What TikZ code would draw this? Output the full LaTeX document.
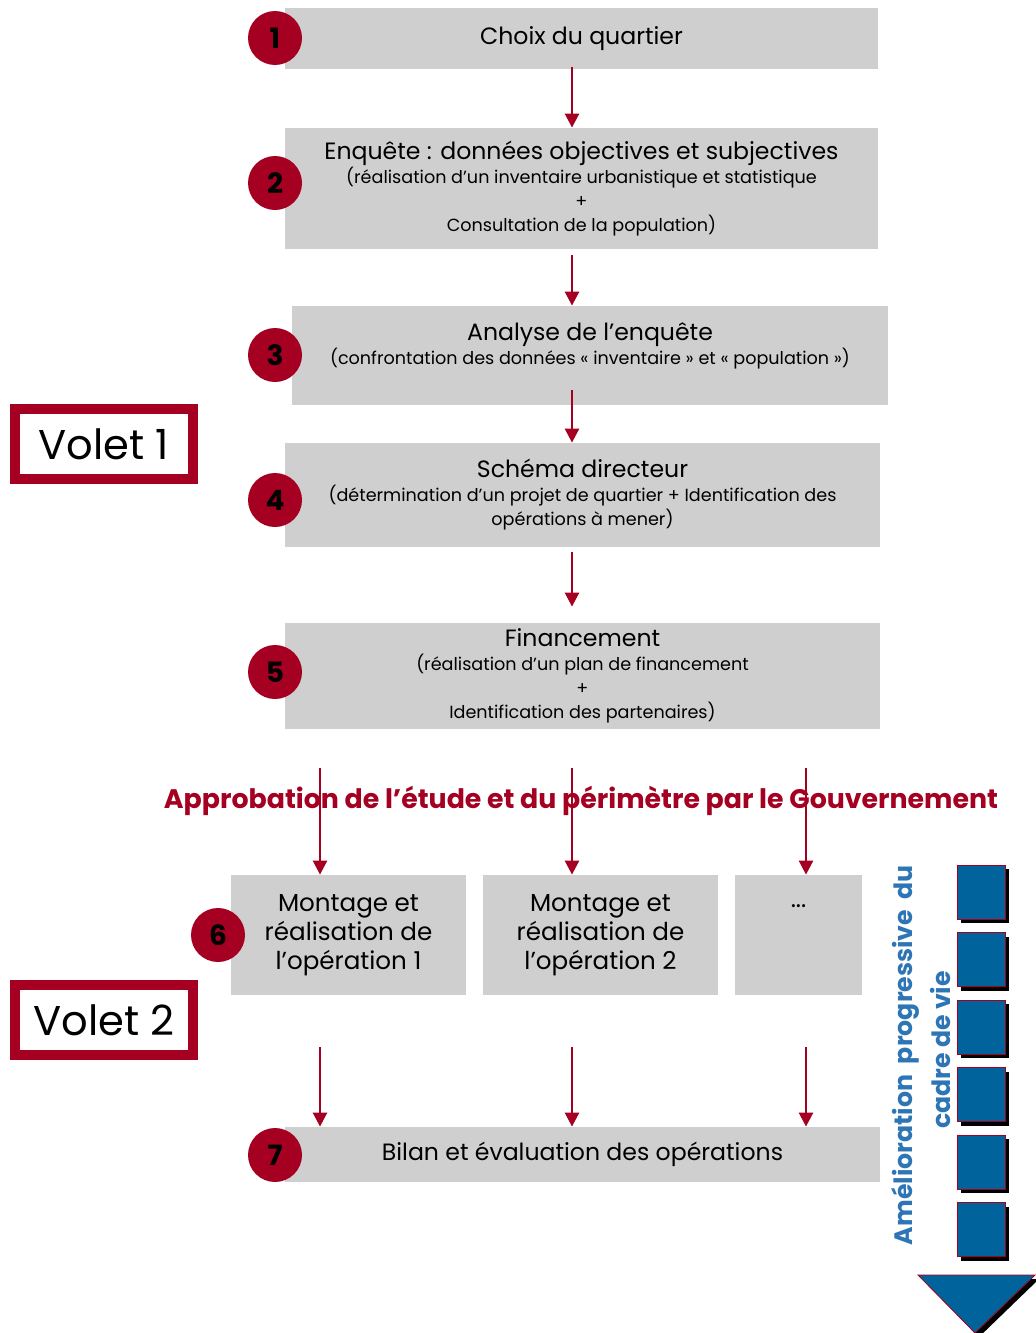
\documentclass[tikz,border=0pt]{standalone}
\usepackage{fontspec}
\usepackage{xcolor}
\setmainfont{Poppins}
\usetikzlibrary{arrows.meta,shadows}
\definecolor{cqrouge}{HTML}{A50021}
\definecolor{cqgris}{HTML}{CFCFCF}
\definecolor{cqbleu}{HTML}{00639C}
\definecolor{cqtexte}{HTML}{2E75B6}
\newcommand\cqdet[1]{{\fontsize{8.8}{11}\selectfont #1}}

\begin{document}
\begin{tikzpicture}[x=0.5pt, y=-0.5pt,
  etape/.style={fill=cqgris, inner sep=1pt, align=center, font=\fontsize{11.8}{12}\selectfont},
  operation/.style={etape, minimum height=60pt, font=\fontsize{12.3}{14.5}\selectfont},
  puce/.style={circle, fill=cqrouge, minimum size=27pt, inner sep=0pt, font=\fontsize{14}{14}\selectfont\bfseries},
  fleche/.style={draw=cqrouge, line width=1.3pt, -{Triangle[width=7pt,length=7pt]}},
  volet/.style={draw=cqrouge, line width=5pt, fill=white, minimum width=89pt, minimum height=35pt, font=\fontsize{20.8}{20.8}\selectfont},
  palier/.style={fill=cqbleu, draw=cqrouge, line width=0.4pt, minimum width=24pt, minimum height=27pt, inner sep=0pt,
    drop shadow={shadow xshift=2pt, shadow yshift=-2pt, fill=black, opacity=1}},
  vertical/.style={rotate=90, text=cqtexte, font=\fontsize{12.6}{12.6}\selectfont\bfseries}]
  \useasboundingbox[fill=white] (0,0) rectangle (1035,1333);

  % colonnes des fleches
  \coordinate (colA) at (320,0);
  \coordinate (colB) at (572,0);
  \coordinate (colC) at (806,0);

  % volet 1
  \node[etape, minimum width=296.5pt, minimum height=30.5pt] (b1) at (581.5,38.5) {Choix du quartier};
  \node[etape, minimum width=296.5pt, minimum height=60.5pt] (b2) at (581.5,188.5)
    {Enquête : données objectives et subjectives\\ \cqdet{(réalisation d’un inventaire urbanistique et statistique}\\ \cqdet{+}\\ \cqdet{Consultation de la population)}};
  \node[etape, minimum width=298pt, minimum height=49.5pt] (b3) at (590,355.5)
    {Analyse de l’enquête\\ \cqdet{(confrontation des données « inventaire » et « population »)}\\ \mbox{}};
  \node[etape, minimum width=297.5pt, minimum height=52pt] (b4) at (582.5,495)
    {Schéma directeur\\ \cqdet{(détermination d’un projet de quartier + Identification des}\\ \cqdet{opérations à mener)}};
  \node[etape, minimum width=297.5pt, minimum height=53pt] (b5) at (582.5,676)
    {Financement\\ \cqdet{(réalisation d’un plan de financement}\\ \cqdet{+}\\ \cqdet{Identification des partenaires)}};

  % volet 2
  \node[operation, minimum width=117.5pt] (b6a) at (348.5,935) {Montage et\\ réalisation de\\ l’opération 1};
  \node[operation, minimum width=117.5pt] (b6b) at (600.5,935) {Montage et\\ réalisation de\\ l’opération 2};
  \node[operation, minimum width=63.5pt] (b6c) at (798.5,935) {...\\ \mbox{}\\ \mbox{}};
  \node[etape, minimum width=297.5pt, minimum height=27.5pt] (b7) at (582.5,1154.5) {Bilan et évaluation des opérations};

  % pastilles
  \node[puce] (p1) at (275,38) {1};
  \node[puce] (p2) at (275,183) {2};
  \node[puce] (p3) at (275,355) {3};
  \node[puce] (p4) at (275,500) {4};
  \node[puce] (p5) at (275,672) {5};
  \node[puce] (p6) at (218,935) {6};
  \node[puce] (p7) at (275,1155) {7};

  \node[volet] (v1) at (104,444) {Volet 1};
  \node[volet] (v2) at (104,1020) {Volet 2};

  \node[text=cqrouge, font=\fontsize{13.4}{13.4}\selectfont\bfseries] (appro) at (581,801)
    {Approbation de l’étude et du périmètre par le Gouvernement};

  % fleches
  \draw[fleche, shorten <=-1pt] (b1.south -| colB) -- (b2.north -| colB);
  \draw[fleche, shorten <=3pt] (b2.south -| colB) -- (b3.north -| colB);
  \draw[fleche, shorten <=-7.5pt] (b3.south -| colB) -- (b4.north -| colB);
  \draw[fleche, shorten <=2.5pt, shorten >=8pt] (b4.south -| colB) -- (b5.north -| colB);
  \draw[fleche, shorten <=19.5pt] (b5.south -| colA) -- (b6a.north -| colA);
  \draw[fleche, shorten <=19.5pt] (b5.south -| colB) -- (b6b.north -| colB);
  \draw[fleche, shorten <=19.5pt] (b5.south -| colC) -- (b6c.north -| colC);
  \draw[fleche, shorten <=26pt] (b6a.south -| colA) -- (b7.north -| colA);
  \draw[fleche, shorten <=26pt] (b6b.south -| colB) -- (b7.north -| colB);
  \draw[fleche, shorten <=26pt] (b6c.south -| colC) -- (b7.north -| colC);

  % amelioration du cadre de vie
  \foreach \i in {1,...,6}
    \node[palier] (c\i) at (981,{892+67.5*(\i-1)}) {};
  \fill[black] (922,1279) -- (1039,1279) -- (979,1337) -- cycle;
  \filldraw[fill=cqbleu, draw=cqrouge, line width=0.4pt] (918,1275) -- (1035,1275) -- (975,1333) -- cycle;
  \node[vertical] (t1) at (905,1055) {Amélioration \ progressive \ du};
  \node[vertical] (t2) at (940,1050) {cadre de vie};
\end{tikzpicture}
\end{document}
